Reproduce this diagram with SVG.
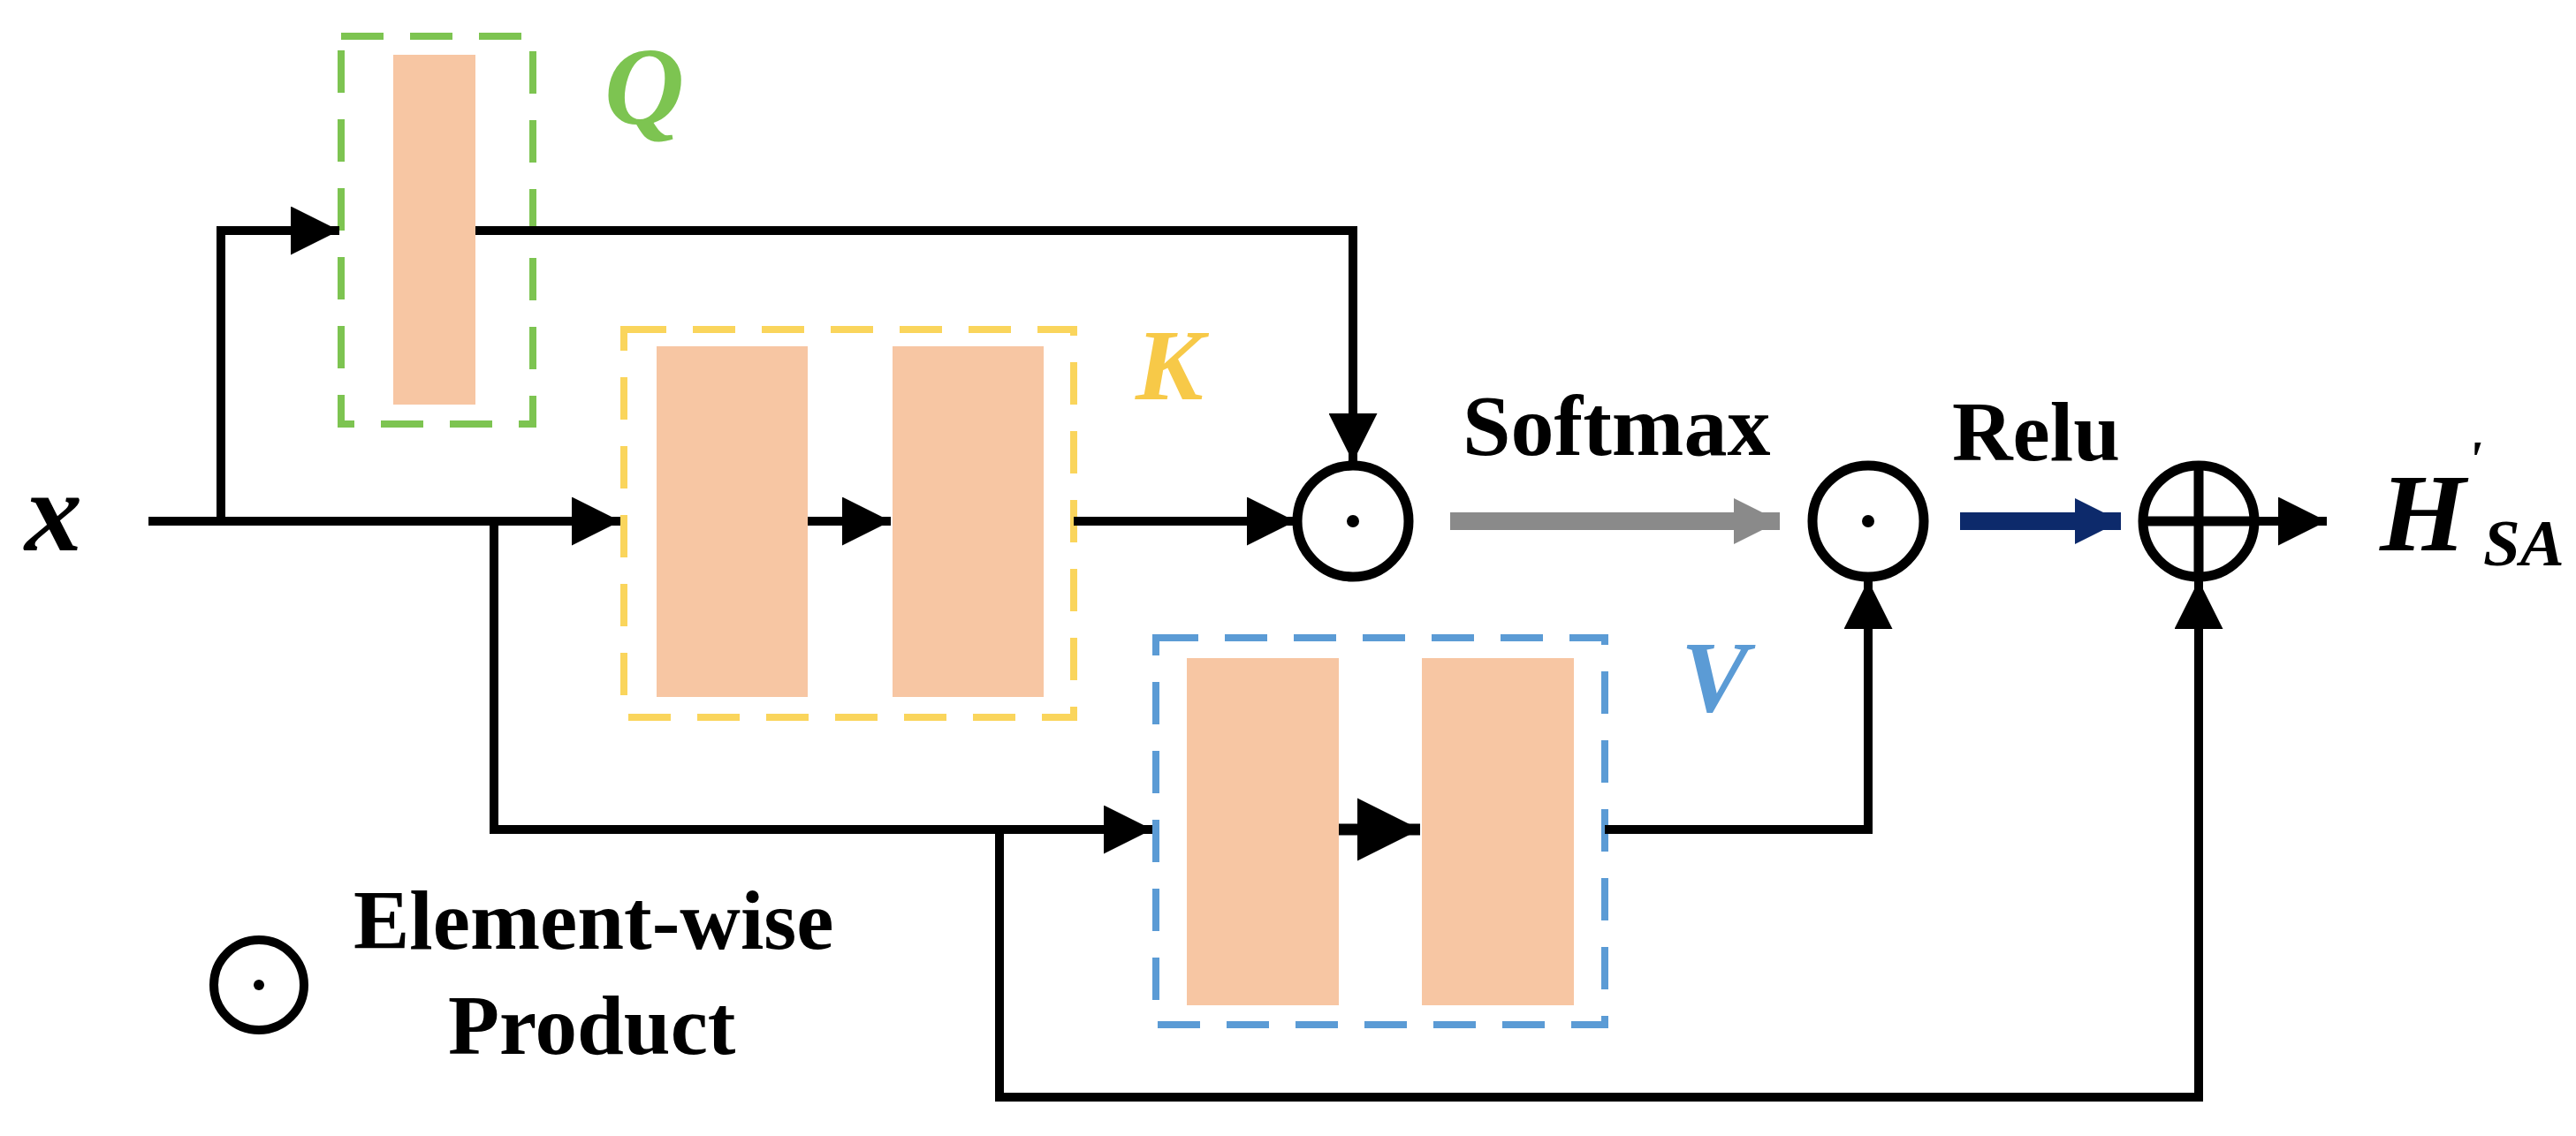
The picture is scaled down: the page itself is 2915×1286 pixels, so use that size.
<svg xmlns="http://www.w3.org/2000/svg" width="2915" height="1286" viewBox="0 0 2915 1286">
<style>
.blk{fill:#f7c6a3;}
.ln{fill:none;stroke:#000;stroke-width:10;}
.op{fill:#fff;stroke:#000;stroke-width:11;}
.t{font-family:"Liberation Serif",serif;font-weight:bold;}
.ti{font-family:"Liberation Serif",serif;font-weight:bold;font-style:italic;}
.dash{fill:none;stroke-width:8;stroke-dasharray:48 30;}
</style>
<defs>
<marker id="ah" viewBox="0 0 10 10" refX="10" refY="5" markerWidth="5.5" markerHeight="5.5" markerUnits="strokeWidth" orient="auto"><path d="M0,0L10,5L0,10z" fill="#000"/></marker>
<marker id="ag" viewBox="0 0 10 10" refX="10" refY="5" markerWidth="2.6" markerHeight="2.6" markerUnits="strokeWidth" orient="auto"><path d="M0,0L10,5L0,10z" fill="#8a8a8a"/></marker>
<marker id="an" viewBox="0 0 10 10" refX="10" refY="5" markerWidth="2.6" markerHeight="2.6" markerUnits="strokeWidth" orient="auto"><path d="M0,0L10,5L0,10z" fill="#0d2a6b"/></marker>
</defs>
<text class="ti" x="28" y="623" font-size="130">x</text>
<g id="Q">
<rect class="dash" x="386" y="41" width="217" height="439" stroke="#7dc451"/>
<rect class="blk" x="445" y="62" width="93" height="396"/>
<text class="ti" x="684" y="140" font-size="125" fill="#7dc451">Q</text>
</g>
<g id="K">
<rect class="dash" x="706" y="373" width="509" height="439" stroke="#fad55c"/>
<rect class="blk" x="743" y="392" width="171" height="397"/>
<rect class="blk" x="1010" y="392" width="171" height="397"/>
<text class="ti" x="1285" y="452" font-size="115" fill="#f7c948">K</text>
</g>
<g id="V">
<rect class="dash" x="1308" y="722" width="508" height="438" stroke="#5b9bd5"/>
<rect class="blk" x="1343" y="745" width="172" height="393"/>
<rect class="blk" x="1609" y="745" width="172" height="393"/>
<text class="ti" x="1902" y="805" font-size="115" fill="#5b9bd5">V</text>
</g>
<g id="op1"><circle class="op" cx="1531" cy="590" r="63"/><circle cx="1531" cy="590" r="7"/></g>
<g id="op2"><circle class="op" cx="2114" cy="590" r="63"/><circle cx="2114" cy="590" r="7"/></g>
<g id="plus"><circle class="op" cx="2488" cy="590" r="63"/><path d="M2425,590H2551M2488,527V653" stroke="#000" stroke-width="11"/></g>
<g id="out">
<text class="ti" x="2693" y="623" font-size="125">H</text>
<text class="ti" x="2792" y="540" font-size="60">'</text>
<text class="ti" x="2810" y="640" font-size="75">SA</text>
</g>
<g id="legend">
<circle cx="293" cy="1115" r="51" fill="none" stroke="#000" stroke-width="10"/><circle cx="293" cy="1115" r="6"/>
<text class="t" x="400" y="1074" font-size="95">Element-wise</text>
<text class="t" x="507" y="1193" font-size="95">Product</text>
</g>
<g id="connectors">
<path class="ln" d="M168,590H702" marker-end="url(#ah)"/>
<path class="ln" d="M250,590V261H384" marker-end="url(#ah)"/>
<path class="ln" d="M538,261H1531V523" marker-end="url(#ah)"/>
<path class="ln" d="M914,590H1008" marker-end="url(#ah)"/>
<path class="ln" d="M1215,590H1466" marker-end="url(#ah)"/>
<path class="ln" d="M559,590V939H1304" marker-end="url(#ah)"/>
<path d="M1515,939H1607" fill="none" stroke="#000" stroke-width="13" marker-end="url(#ah)"/>
<path class="ln" d="M1816,939H2114V657" marker-end="url(#ah)"/>
<path class="ln" d="M1131,939V1242H2488V657" marker-end="url(#ah)"/>
<path class="ln" d="M2551,590H2633" marker-end="url(#ah)"/>
<path d="M1641,590H2014" fill="none" stroke="#8a8a8a" stroke-width="20" marker-end="url(#ag)"/>
<path d="M2218,590H2400" fill="none" stroke="#0d2a6b" stroke-width="20" marker-end="url(#an)"/>
</g>
<text class="t" x="1655" y="515" font-size="98">Softmax</text>
<text class="t" x="2209" y="521" font-size="95">Relu</text>
</svg>
